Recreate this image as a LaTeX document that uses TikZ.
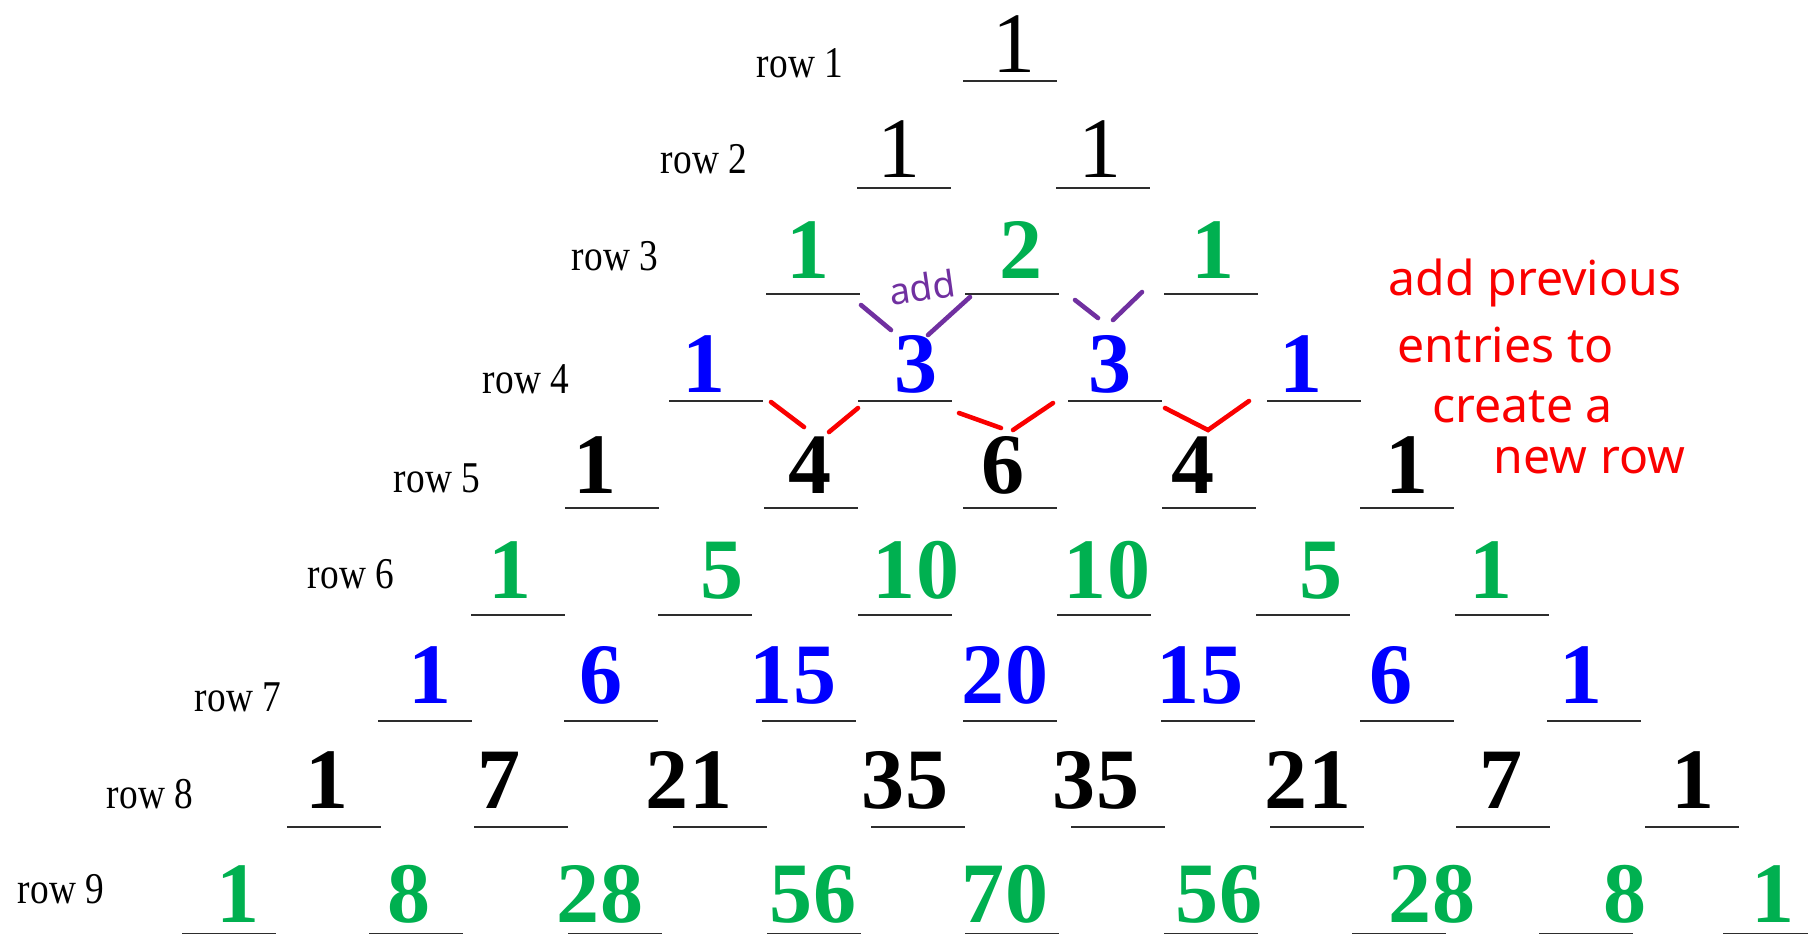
\documentclass[tikz,border=0pt]{standalone}
\usepackage{fontspec}
\setmainfont{Liberation Serif}
\newfontfamily\rowfont[FakeStretch=0.85]{Liberation Serif}
\newfontfamily\handfont{Noto Sans}
\usepackage{tikz}
\usetikzlibrary{positioning}
\definecolor{wordgreen}{RGB}{0,176,80}
\definecolor{wordblue}{RGB}{0,0,255}
\definecolor{inkred}{RGB}{250,0,0}
\definecolor{inkpurple}{RGB}{112,48,160}
\definecolor{rulegray}{RGB}{45,45,45}
\tikzset{
  num/.style={
    anchor=base,
    inner sep=0pt,
    font=\fontsize{24.5}{29}\selectfont\bfseries
  },
  plainnum/.style={
    num,
    font=\fontsize{24.5}{29}\selectfont
  },
  rowlab/.style={
    anchor=base,
    inner sep=0pt,
    font=\rowfont\fontsize{12.5}{15}\selectfont
  },
  numrule/.style={
    draw=rulegray,
    line width=.8pt
  },
  note/.style={
    anchor=base west,
    inner sep=0pt,
    text=inkred,
    font=\handfont\fontsize{13.7}{16}\selectfont
  },
  scrawl/.style={
    line width=1.3pt,
    line cap=round
  }
}

\begin{document}
\begin{tikzpicture}[x=.1mm,y=-.1mm]
\useasboundingbox (0,0) rectangle (1808,933);
% row labels
\node[rowlab] (lab1) at (800,77) {row 1};
\node[rowlab] (lab2) at (704,173) {row 2};
\node[rowlab] (lab3) at (615,270) {row 3};
\node[rowlab] (lab4) at (526,393) {row 4};
\node[rowlab] (lab5) at (437,492) {row 5};
\node[rowlab] (lab6) at (351,588) {row 6};
\node[rowlab] (lab7) at (238,711) {row 7};
\node[rowlab] (lab8) at (150,808) {row 8};
\node[rowlab] (lab9) at (61,903) {row 9};
% underlines
\foreach \u in {1010} \draw[numrule] (\u-47,81) -- (\u+47,81);
\foreach \u in {904,1103} \draw[numrule] (\u-47,188) -- (\u+47,188);
\foreach \u in {813,1012,1211} \draw[numrule] (\u-47,294) -- (\u+47,294);
\foreach \u in {716,905,1115,1314} \draw[numrule] (\u-47,401) -- (\u+47,401);
\foreach \u in {612,811,1010,1209,1407} \draw[numrule] (\u-47,508) -- (\u+47,508);
\foreach \u in {518,705,905,1104,1303,1502} \draw[numrule] (\u-47,615) -- (\u+47,615);
\foreach \u in {425,611,809,1010,1208,1407,1594} \draw[numrule] (\u-47,721) -- (\u+47,721);
\foreach \u in {334,521,720,918,1118,1317,1503,1692} \draw[numrule] (\u-47,827) -- (\u+47,827);
\foreach \u in {229,416,615,814,1012,1211,1399,1586,1770} \draw[numrule] (\u-47,934) -- (\u+47,934);
% rows 1 and 2
\node[plainnum] (r1c1) at (1014,72) {1};
\node[plainnum] (r2c1) at (899,177) {1};
\node[plainnum] (r2c2) at (1100,177) {1};
% row 3
\node[num, wordgreen] (r3c1) at (808,278) {1};
\node[num, wordgreen] (r3c2) at (1021,278) {2};
\node[num, wordgreen] (r3c3) at (1213,278) {1};
% row 4
\node[num, wordblue] (r4c1) at (704,392) {1};
\node[num, wordblue] (r4c2) at (916,392) {3};
\node[num, wordblue] (r4c3) at (1110,392) {3};
\node[num, wordblue] (r4c4) at (1301,392) {1};
% row 5
\node[num] (r5c1) at (595,493) {1};
\node[num] (r5c2) at (810,493) {4};
\node[num] (r5c3) at (1003,493) {6};
\node[num] (r5c4) at (1193,493) {4};
\node[num] (r5c5) at (1407,493) {1};
% row 6
\node[num, wordgreen] (r6c1) at (510,598) {1};
\node[num, wordgreen] (r6c2) at (722,598) {5};
\node[num, wordgreen] (r6c3) at (916,598) {10};
\node[num, wordgreen] (r6c4) at (1107,598) {10};
\node[num, wordgreen] (r6c5) at (1321,598) {5};
\node[num, wordgreen] (r6c6) at (1491,598) {1};
% row 7
\node[num, wordblue] (r7c1) at (430,703) {1};
\node[num, wordblue] (r7c2) at (601,703) {6};
\node[num, wordblue] (r7c3) at (793,703) {15};
\node[num, wordblue] (r7c4) at (1005,703) {20};
\node[num, wordblue] (r7c5) at (1200,703) {15};
\node[num, wordblue] (r7c6) at (1391,703) {6};
\node[num, wordblue] (r7c7) at (1581,703) {1};
% row 8
\node[num] (r8c1) at (327,808) {1};
\node[num] (r8c2) at (499,808) {7};
\node[num] (r8c3) at (689,808) {21};
\node[num] (r8c4) at (905,808) {35};
\node[num] (r8c5) at (1096,808) {35};
\node[num] (r8c6) at (1308,808) {21};
\node[num] (r8c7) at (1501,808) {7};
\node[num] (r8c8) at (1693,808) {1};
% row 9
\node[num, wordgreen] (r9c1) at (238,922) {1};
\node[num, wordgreen] (r9c2) at (409,922) {8};
\node[num, wordgreen] (r9c3) at (600,922) {28};
\node[num, wordgreen] (r9c4) at (813,922) {56};
\node[num, wordgreen] (r9c5) at (1005,922) {70};
\node[num, wordgreen] (r9c6) at (1219,922) {56};
\node[num, wordgreen] (r9c7) at (1432,922) {28};
\node[num, wordgreen] (r9c8) at (1625,922) {8};
\node[num, wordgreen] (r9c9) at (1773,922) {1};
% handwritten marks
\node[note, text=inkpurple, anchor=center, rotate=8, font=\handfont\fontsize{10.5}{12}\selectfont] (addtag) at (922,287) {add};
\draw[scrawl, inkpurple] (861,305) -- (891,330);
\draw[scrawl, inkpurple] (970,297) -- (928,335);
\draw[scrawl, inkpurple] (1075,300) -- (1098,318);
\draw[scrawl, inkpurple] (1142,292) -- (1113,320);
\draw[scrawl, inkred] (771,402) -- (804,427);
\draw[scrawl, inkred] (858,408) -- (829,432);
\draw[scrawl, inkred] (959,413) -- (1001,428);
\draw[scrawl, inkred] (1053,403) -- (1013,430);
\draw[scrawl, inkred] (1165,408) -- (1208,430) -- (1249,401);
\node[note] (note1) at (1388,295) {add previous};
\node[note] (note2) at (1397,362) {entries to};
\node[note] (note3) at (1432,422) {create a};
\node[note] (note4) at (1493,473) {new row};
\end{tikzpicture}
\end{document}
